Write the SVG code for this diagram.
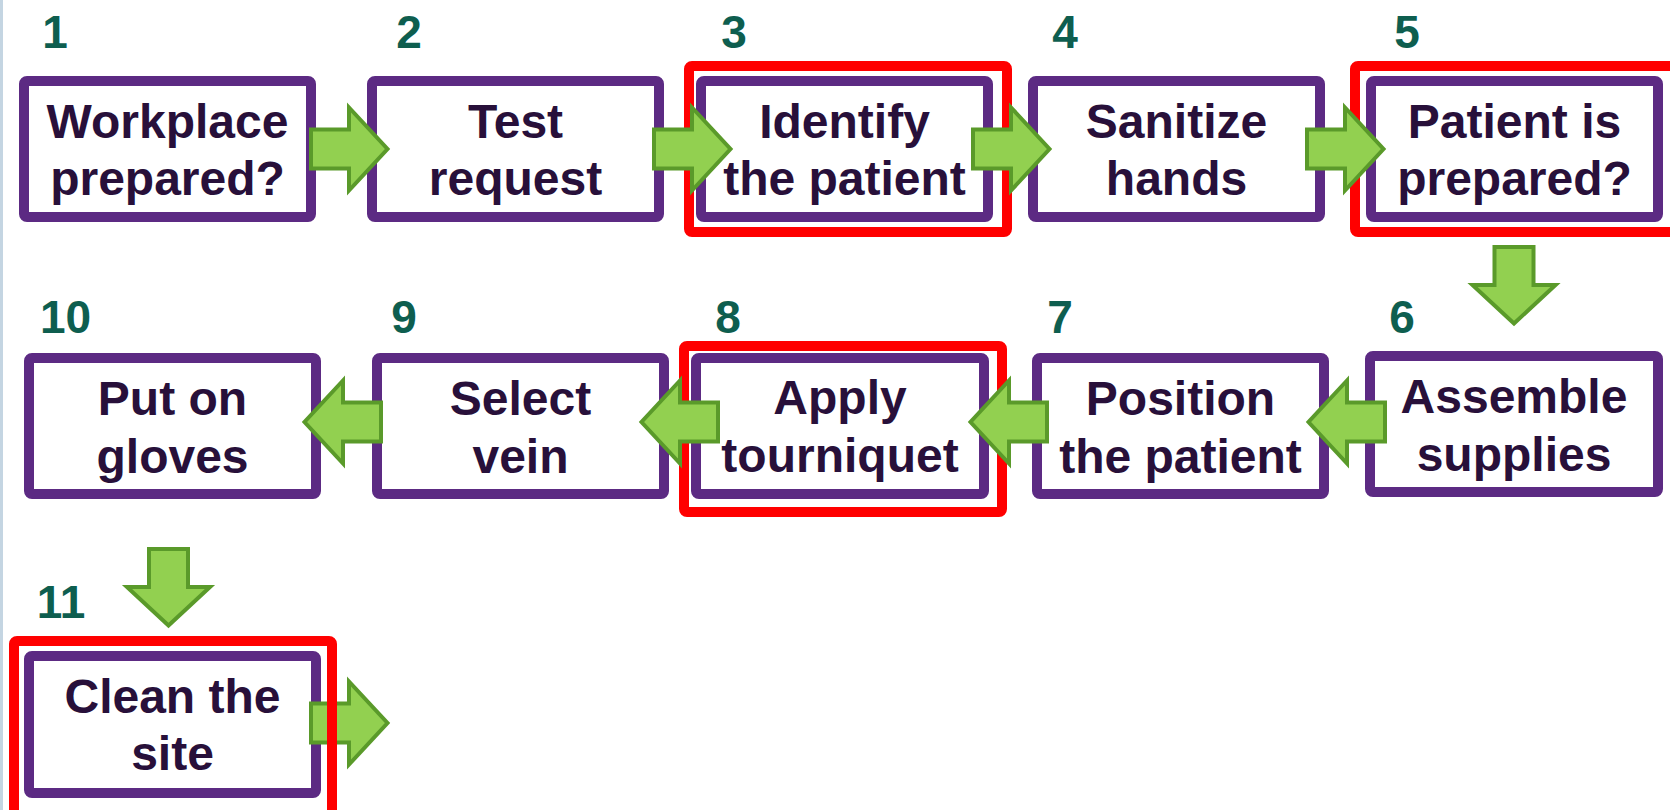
<svg xmlns="http://www.w3.org/2000/svg" xmlns:xlink="http://www.w3.org/1999/xlink" width="1670" height="810" viewBox="0 0 1670 810">
  <defs>
    <style>
      .step { fill: #ffffff; stroke: #5c2a83; stroke-width: 10; }
      .focus { fill: none; stroke: #ff0000; stroke-width: 10; }
      .label { font-family: "Liberation Sans", Arial, sans-serif; font-weight: bold; font-size: 48px; fill: #28103a; text-anchor: middle; }
      .num { font-family: "Liberation Sans", Arial, sans-serif; font-weight: bold; font-size: 46px; fill: #0e5e4f; text-anchor: middle; }
      .flow { fill: #92d050; stroke: #5a9a2a; stroke-width: 4; stroke-linejoin: miter; }
    </style>
    <!-- block arrow pointing right, origin at shaft tail / centre line -->
    <path id="arrow" class="flow" d="M2,-19.5 H40 V-41.5 L78.5,0 L40,41.5 V19.5 H2 Z"/>
  </defs>

  <rect x="0" y="0" width="1670" height="810" fill="#ffffff"/>
  <rect x="0" y="0" width="3" height="810" fill="#c4d5e2"/>

  <!-- row 1 -->
  <g id="step1">
    <rect class="step" x="24" y="81" width="287" height="136" rx="3"/>
    <text class="num" x="55" y="48">1</text>
    <text class="label" x="167.5" y="138">Workplace</text>
    <text class="label" x="167.5" y="195">prepared?</text>
  </g>
  <g id="step2">
    <rect class="step" x="372" y="81" width="287" height="136" rx="3"/>
    <text class="num" x="409" y="48">2</text>
    <text class="label" x="515.5" y="138">Test</text>
    <text class="label" x="515.5" y="195">request</text>
  </g>
  <g id="step3">
    <rect class="step" x="701" y="81" width="287" height="136" rx="3"/>
    <rect class="focus" x="689" y="66" width="318" height="166" rx="3"/>
    <text class="num" x="734" y="48">3</text>
    <text class="label" x="844.5" y="138">Identify</text>
    <text class="label" x="844.5" y="195">the patient</text>
  </g>
  <g id="step4">
    <rect class="step" x="1033" y="81" width="287" height="136" rx="3"/>
    <text class="num" x="1065" y="48">4</text>
    <text class="label" x="1176.5" y="138">Sanitize</text>
    <text class="label" x="1176.5" y="195">hands</text>
  </g>
  <g id="step5">
    <rect class="step" x="1371" y="81" width="287" height="136" rx="3"/>
    <rect class="focus" x="1355" y="66" width="322" height="166" rx="3"/>
    <text class="num" x="1407" y="48">5</text>
    <text class="label" x="1514.5" y="138">Patient is</text>
    <text class="label" x="1514.5" y="195">prepared?</text>
  </g>

  <!-- row 2 -->
  <g id="step6">
    <rect class="step" x="1370" y="356" width="288" height="136" rx="3"/>
    <text class="num" x="1402" y="333">6</text>
    <text class="label" x="1514" y="413">Assemble</text>
    <text class="label" x="1514" y="471">supplies</text>
  </g>
  <g id="step7">
    <rect class="step" x="1037" y="358" width="287" height="136" rx="3"/>
    <text class="num" x="1060" y="333">7</text>
    <text class="label" x="1180.5" y="415">Position</text>
    <text class="label" x="1180.5" y="473">the patient</text>
  </g>
  <g id="step8">
    <rect class="step" x="696" y="358" width="288" height="136" rx="3"/>
    <rect class="focus" x="684" y="346" width="318" height="166" rx="3"/>
    <text class="num" x="728" y="333">8</text>
    <text class="label" x="840" y="414">Apply</text>
    <text class="label" x="840" y="472">tourniquet</text>
  </g>
  <g id="step9">
    <rect class="step" x="377" y="358" width="287" height="136" rx="3"/>
    <text class="num" x="404" y="333">9</text>
    <text class="label" x="520.5" y="415">Select</text>
    <text class="label" x="520.5" y="473">vein</text>
  </g>
  <g id="step10">
    <rect class="step" x="29" y="358" width="287" height="136" rx="3"/>
    <text class="num" x="65.5" y="333">10</text>
    <text class="label" x="172.5" y="415">Put on</text>
    <text class="label" x="172.5" y="473">gloves</text>
  </g>

  <!-- row 3 -->
  <g id="step11">
    <rect class="step" x="29" y="656" width="287" height="137" rx="3"/>
    <text class="num" x="61" y="618">11</text>
    <text class="label" x="172.5" y="713">Clean the</text>
    <text class="label" x="172.5" y="770">site</text>
  </g>

  <!-- flow arrows between steps -->
  <g id="connectors">
    <use xlink:href="#arrow" transform="translate(309,149)"/>
    <use xlink:href="#arrow" transform="translate(652,149)"/>
    <use xlink:href="#arrow" transform="translate(971,149)"/>
    <use xlink:href="#arrow" transform="translate(1305,149)"/>
    <use xlink:href="#arrow" transform="translate(1514,245) rotate(90)"/>
    <use xlink:href="#arrow" transform="translate(1387,422) scale(-1,1)"/>
    <use xlink:href="#arrow" transform="translate(1049,422) scale(-1,1)"/>
    <use xlink:href="#arrow" transform="translate(720,422) scale(-1,1)"/>
    <use xlink:href="#arrow" transform="translate(383,422) scale(-1,1)"/>
    <use xlink:href="#arrow" transform="translate(168.5,547) rotate(90)"/>
    <use xlink:href="#arrow" transform="translate(309,723)"/>
  </g>

  <!-- highlight frame of the last step sits above its outgoing arrow -->
  <g id="step11-frame">
    <rect class="focus" x="14" y="641" width="318" height="174" rx="3"/>
  </g>
</svg>
